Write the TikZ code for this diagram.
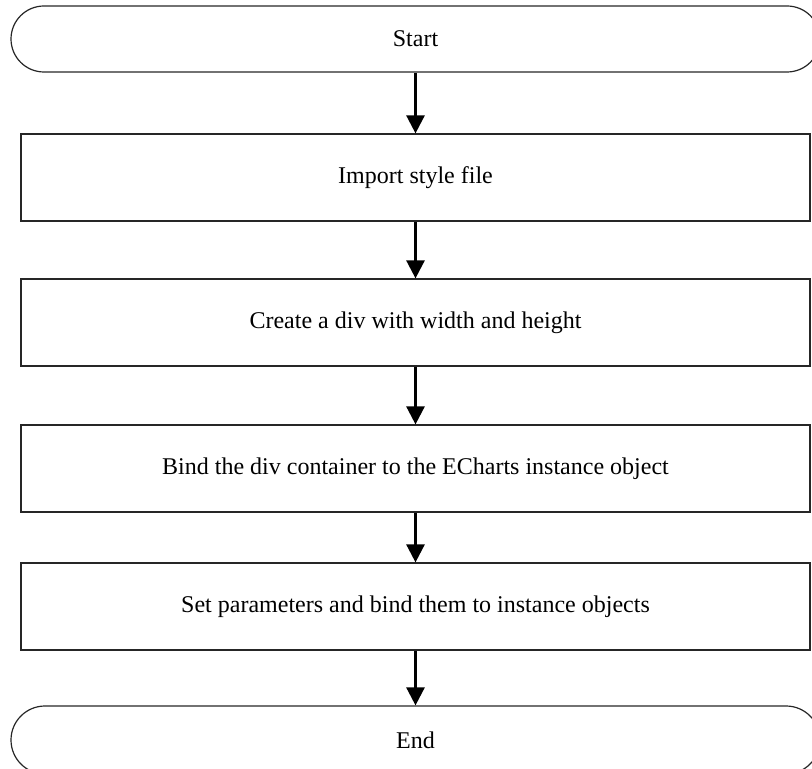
\documentclass[tikz,border=0pt]{standalone}
\usepackage{fontspec}
\setmainfont{Liberation Serif}
\usepackage{tikz}
\usetikzlibrary{arrows.meta}
\tikzstyle{terminal}=[shape=rectangle,draw=black!85,line width=0.6pt,rounded corners=16.5pt,minimum width=404.5pt,minimum height=33pt,inner sep=0pt]
\tikzstyle{stepbox}=[shape=rectangle,draw=black!85,line width=0.6pt,minimum width=394.5pt,minimum height=43.5pt,inner sep=0pt]
\tikzstyle{flowedge}=[{Triangle[length=9pt,width=9pt]}-,line width=1.3pt]

\begin{document}
\begin{tikzpicture}[x=0.5pt,y=-0.5pt,font=\fontsize{12}{14}\selectfont]

		\useasboundingbox (0,0) rectangle (812,769);

		% terminals and steps
		\node[terminal] (start) at (415.5,39) {Start};
		\node[stepbox] (s1) at (415.5,177.5) {Import style file}
			edge [flowedge] (start);
		\node[stepbox] (s2) at (415.5,322.5) {Create a div with width and height}
			edge [flowedge] (s1);
		\node[stepbox] (s3) at (415.5,468.5) {Bind the div container to the ECharts instance object}
			edge [flowedge] (s2);
		\node[stepbox] (s4) at (415.5,606.5) {Set parameters and bind them to instance objects}
			edge [flowedge] (s3);
		\node[terminal,minimum height=34pt,rounded corners=17pt] (stop) at (415.5,740) {End}
			edge [flowedge] (s4);

		\end{tikzpicture}
\end{document}
